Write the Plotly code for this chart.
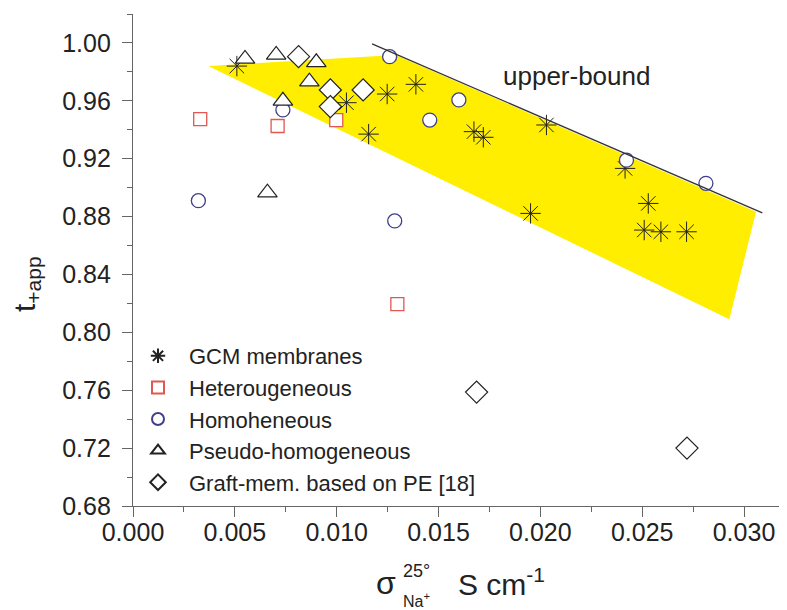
import plotly.graph_objects as go

# ---- data ----
gcm_x = [0.0051, 0.01048, 0.01248, 0.01389, 0.01157, 0.01674, 0.0172, 0.0203,
         0.02416, 0.0253, 0.0251, 0.02592, 0.02718, 0.01952]
gcm_y = [0.984, 0.9587, 0.9647, 0.9714, 0.937, 0.9387, 0.9348, 0.9433,
         0.9133, 0.8891, 0.8707, 0.8695, 0.8695, 0.8822]

het_x = [0.0033, 0.0071, 0.00998, 0.01298]
het_y = [0.9474, 0.9426, 0.9467, 0.8195]

hom_x = [0.00321, 0.00736, 0.0126, 0.01457, 0.01285, 0.016, 0.02423, 0.02813]
hom_y = [0.891, 0.9537, 0.9905, 0.9467, 0.877, 0.9606, 0.919, 0.903]

pse_x = [0.0055, 0.00703, 0.0090, 0.00866, 0.00736, 0.0066]
pse_y = [0.989, 0.9917, 0.9866, 0.9732, 0.960, 0.8965]

gra_x = [0.00813, 0.00969, 0.0113, 0.00969, 0.01687, 0.0272]
gra_y = [0.9905, 0.9675, 0.9675, 0.956, 0.7587, 0.720]

region_x = [0.0037, 0.01289, 0.03059, 0.02928, 0.0037]
region_y = [0.984, 0.9917, 0.8833, 0.809, 0.984]

bound_x = [0.01174, 0.0309]
bound_y = [0.9993, 0.8826]

FONT = "Arial, Liberation Sans, sans-serif"
TXT = "#222222"
AX = "#666666"

# plot area in page pixels (page has an 8px body margin)
OFF = 8
L, R, T, B = 133, 786, 14, 506
W, H = 787 - OFF, 610 - OFF
XMAX = 0.03 * (R - L) / (744 - L)


def px(xp):
    return (xp - L) / (R - L)


def py(yp):
    return (B - yp) / (B - T)


fig = go.Figure()

fig.add_trace(go.Scatter(x=region_x, y=region_y, mode="lines", fill="toself",
                         fillcolor="#FFEE00", line=dict(width=0),
                         showlegend=False, hoverinfo="skip"))
fig.add_trace(go.Scatter(x=bound_x, y=bound_y, mode="lines", xaxis="x2",
                         line=dict(color="#333333", width=1.3),
                         showlegend=False, hoverinfo="skip"))

fig.add_trace(go.Scatter(x=gcm_x, y=gcm_y, mode="markers", name="GCM membranes",
                         legendgroup="a",
                         marker=dict(symbol="asterisk-open", size=17, color="#222222",
                                     line=dict(color="#222222", width=1.0))))
fig.add_trace(go.Scatter(x=het_x, y=het_y, mode="markers", name="Heterougeneous",
                         legendgroup="b",
                         marker=dict(symbol="square", size=13, color="white",
                                     line=dict(color="#E0584F", width=1.3))))
fig.add_trace(go.Scatter(x=hom_x, y=hom_y, mode="markers", name="Homoheneous",
                         legendgroup="c",
                         marker=dict(symbol="circle", size=14, color="white",
                                     line=dict(color="#3F3F8C", width=1.3))))
fig.add_trace(go.Scatter(x=pse_x, y=pse_y, mode="markers", name="Pseudo-homogeneous",
                         legendgroup="d",
                         marker=dict(symbol="triangle-up", size=17, color="white",
                                     line=dict(color="#222222", width=1.2))))
fig.add_trace(go.Scatter(x=gra_x, y=gra_y, mode="markers",
                         name="Graft-mem. based on PE [18]",
                         legendgroup="e",
                         marker=dict(symbol="diamond", size=17, color="white",
                                     line=dict(color="#222222", width=1.2))))

fig.update_layout(
    xaxis=dict(range=[0, XMAX], dtick=0.005, tick0=0, tickformat=".3f",
               showline=True, linecolor=AX, linewidth=1.2, ticks="",
               ticklabelstandoff=4, showgrid=False, zeroline=False,
               tickfont=dict(family=FONT, size=25, color=TXT)),
    xaxis2=dict(range=[0, XMAX], overlaying="x", anchor="y", side="bottom",
                dtick=0.005, tick0=0, showticklabels=False,
                showline=True, linecolor=AX, linewidth=1.2,
                ticks="outside", ticklen=10, tickwidth=1.2, tickcolor=AX,
                minor=dict(dtick=0.0025, ticks="outside", ticklen=5,
                           tickcolor=AX, tickwidth=1.2),
                showgrid=False, zeroline=False),
    yaxis=dict(range=[0.68, 1.02], dtick=0.04, tick0=0.68, tickformat=".2f",
               showline=True, linecolor=AX, linewidth=1.2,
               ticks="outside", ticklen=10, tickwidth=1.2, tickcolor=AX,
               ticklabelstandoff=6,
               minor=dict(dtick=0.02, ticks="outside", ticklen=5,
                          tickcolor=AX, tickwidth=1.2),
               showgrid=False, zeroline=False,
               tickfont=dict(family=FONT, size=25, color=TXT)),
)

ann = [
    dict(text="upper-bound", x=0.02179, y=0.9772, xref="x", yref="y",
         font=dict(family=FONT, size=26, color=TXT)),
    dict(text="t<sub>+app</sub>", x=px(26), y=py(284), textangle=-90,
         font=dict(family=FONT, size=30, color=TXT)),
    dict(text="σ", x=px(386), y=py(583),
         font=dict(family=FONT, size=32, color=TXT)),
    dict(text="25°", x=px(416), y=py(571),
         font=dict(family=FONT, size=18, color=TXT)),
    dict(text="Na<sup>+</sup>", x=px(416), y=py(600),
         font=dict(family=FONT, size=16, color=TXT)),
    dict(text="S cm<sup>-1</sup>", x=px(456), y=py(582), xanchor="left",
         font=dict(family=FONT, size=30, color=TXT)),
]
for a in ann:
    a.setdefault("xref", "paper")
    a.setdefault("yref", "paper")
    a.setdefault("xanchor", "center")
    a["yanchor"] = "middle"
    a["showarrow"] = False

fig.update_layout(
    width=W, height=H, autosize=False,
    margin=dict(l=L - OFF, r=W - (R - OFF), t=T - OFF, b=H - (B - OFF), pad=0),
    paper_bgcolor="white", plot_bgcolor="white",
    annotations=ann,
    legend=dict(x=px(127), y=py(335), xanchor="left", yanchor="top",
                bgcolor="rgba(0,0,0,0)", tracegroupgap=0, itemwidth=52,
                itemsizing="constant",
                font=dict(family=FONT, size=22, color=TXT)),
    font=dict(family=FONT),
)

fig.write_html("out.html")
